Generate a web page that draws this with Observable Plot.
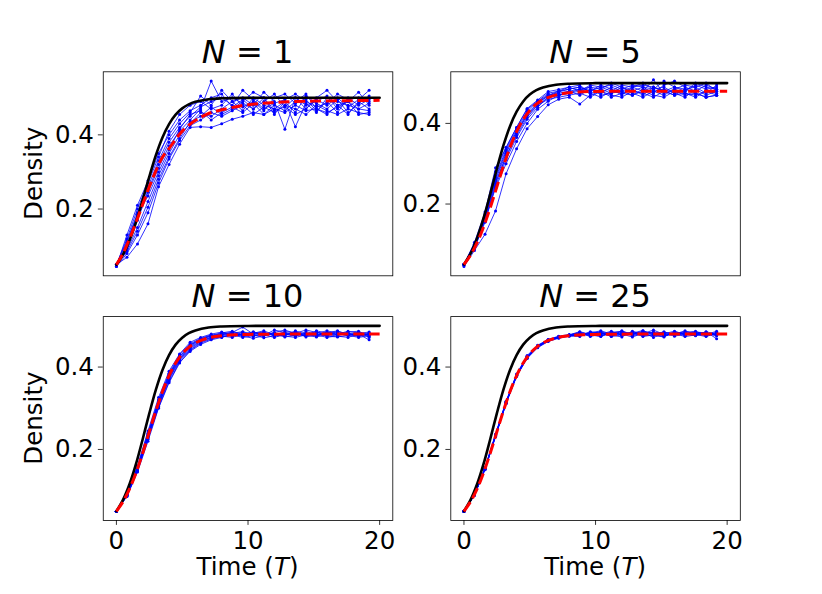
<!DOCTYPE html>
<html>
<head>
<meta charset="utf-8">
<script src="https://cdn.jsdelivr.net/npm/d3@7"></script>
<script src="https://cdn.jsdelivr.net/npm/@observablehq/plot@0.6"></script>
<style>
  body { margin: 0; background: #fff; }
  #chart { position: relative; width: 822px; height: 594px; background: #fff; }
  #chart svg { position: absolute; left: 0; top: 0; }
</style>
</head>
<body>
<div id="chart"></div>
<script>
// ---- data ----
const blueT = [0,0.8,1.6,2.4,3.2,4.0,4.8,5.6,6.4,7.2,8.0,8.8,9.6,10.4,11.2,12.0,12.8,13.6,14.4,15.2,16.0,16.8,17.6,18.4,19.2];

const blueN1 = [
  [0.05,0.095,0.17,0.245,0.31,0.37,0.41,0.44,0.47,0.545,0.49,0.50,0.485,0.47,0.49,0.51,0.475,0.50,0.48,0.49,0.505,0.47,0.49,0.515,0.48],
  [0.045,0.13,0.21,0.276,0.35,0.40,0.44,0.465,0.48,0.50,0.51,0.475,0.495,0.47,0.50,0.455,0.49,0.46,0.505,0.485,0.47,0.495,0.46,0.485,0.505],
  [0.05,0.07,0.106,0.16,0.26,0.32,0.375,0.42,0.422,0.42,0.43,0.442,0.45,0.46,0.455,0.47,0.46,0.48,0.465,0.47,0.455,0.48,0.49,0.47,0.465],
  [0.05,0.11,0.19,0.26,0.33,0.39,0.43,0.46,0.505,0.48,0.52,0.49,0.50,0.48,0.515,0.49,0.415,0.50,0.47,0.495,0.48,0.50,0.475,0.495,0.52],
  [0.05,0.09,0.15,0.22,0.29,0.35,0.40,0.43,0.46,0.45,0.47,0.49,0.465,0.50,0.48,0.47,0.49,0.422,0.485,0.46,0.50,0.48,0.455,0.49,0.47],
  [0.05,0.12,0.20,0.27,0.34,0.41,0.455,0.48,0.49,0.47,0.48,0.51,0.475,0.49,0.465,0.50,0.51,0.485,0.495,0.465,0.49,0.46,0.50,0.48,0.495],
  [0.045,0.08,0.13,0.19,0.27,0.335,0.385,0.425,0.44,0.46,0.45,0.465,0.48,0.455,0.475,0.46,0.48,0.47,0.455,0.48,0.465,0.455,0.47,0.46,0.455],
  [0.05,0.10,0.18,0.25,0.32,0.38,0.42,0.45,0.475,0.49,0.50,0.48,0.52,0.495,0.47,0.485,0.495,0.51,0.49,0.475,0.485,0.51,0.495,0.50,0.49],
  [0.05,0.115,0.185,0.235,0.30,0.36,0.415,0.455,0.465,0.44,0.46,0.475,0.46,0.485,0.455,0.48,0.465,0.49,0.51,0.47,0.46,0.475,0.49,0.455,0.46],
  [0.05,0.085,0.14,0.205,0.28,0.34,0.39,0.435,0.45,0.475,0.455,0.47,0.49,0.515,0.50,0.465,0.475,0.455,0.47,0.50,0.52,0.49,0.48,0.47,0.485]
];

const blueN5 = [
  [0.05,0.10,0.175,0.28,0.34,0.39,0.435,0.455,0.475,0.48,0.485,0.49,0.48,0.495,0.485,0.47,0.49,0.50,0.485,0.49,0.475,0.48,0.495,0.485,0.49],
  [0.05,0.095,0.165,0.26,0.325,0.38,0.42,0.45,0.47,0.475,0.48,0.47,0.485,0.475,0.49,0.48,0.47,0.485,0.48,0.47,0.485,0.475,0.47,0.48,0.475],
  [0.045,0.085,0.125,0.183,0.275,0.337,0.387,0.417,0.446,0.46,0.465,0.448,0.47,0.48,0.465,0.475,0.485,0.47,0.49,0.48,0.47,0.485,0.475,0.465,0.47],
  [0.05,0.10,0.17,0.27,0.335,0.385,0.43,0.455,0.47,0.48,0.49,0.495,0.475,0.485,0.50,0.49,0.48,0.49,0.475,0.495,0.505,0.49,0.48,0.495,0.485],
  [0.05,0.09,0.155,0.245,0.31,0.365,0.41,0.44,0.465,0.47,0.475,0.485,0.49,0.47,0.475,0.49,0.475,0.465,0.48,0.485,0.475,0.465,0.485,0.47,0.48],
  [0.05,0.105,0.18,0.29,0.34,0.39,0.437,0.458,0.479,0.484,0.49,0.48,0.495,0.49,0.48,0.495,0.49,0.48,0.508,0.475,0.485,0.495,0.49,0.475,0.495],
  [0.05,0.09,0.16,0.25,0.32,0.37,0.415,0.445,0.46,0.465,0.47,0.475,0.465,0.48,0.47,0.465,0.48,0.475,0.465,0.48,0.47,0.475,0.465,0.48,0.47],
  [0.05,0.095,0.17,0.265,0.33,0.38,0.425,0.45,0.468,0.478,0.485,0.49,0.48,0.49,0.495,0.485,0.495,0.49,0.485,0.505,0.49,0.48,0.50,0.49,0.485],
  [0.05,0.10,0.165,0.255,0.315,0.375,0.42,0.445,0.465,0.47,0.48,0.485,0.475,0.465,0.48,0.475,0.47,0.48,0.47,0.465,0.48,0.47,0.475,0.465,0.47],
  [0.05,0.095,0.16,0.24,0.30,0.355,0.40,0.435,0.455,0.47,0.475,0.48,0.49,0.485,0.475,0.48,0.49,0.495,0.49,0.48,0.49,0.485,0.49,0.50,0.48]
];

const blueN10 = [
  [0.05,0.09,0.155,0.235,0.315,0.38,0.425,0.452,0.468,0.475,0.482,0.478,0.485,0.475,0.48,0.483,0.476,0.488,0.48,0.475,0.485,0.478,0.482,0.476,0.48],
  [0.05,0.088,0.148,0.228,0.305,0.372,0.418,0.445,0.462,0.472,0.478,0.485,0.476,0.482,0.488,0.478,0.482,0.475,0.486,0.48,0.476,0.484,0.478,0.485,0.472],
  [0.05,0.092,0.16,0.245,0.326,0.39,0.432,0.46,0.472,0.48,0.485,0.48,0.478,0.486,0.477,0.49,0.484,0.479,0.476,0.488,0.482,0.486,0.48,0.478,0.483],
  [0.05,0.086,0.145,0.22,0.30,0.362,0.41,0.44,0.458,0.468,0.475,0.472,0.48,0.478,0.471,0.476,0.48,0.485,0.477,0.473,0.479,0.475,0.472,0.48,0.466],
  [0.05,0.09,0.152,0.232,0.312,0.378,0.422,0.45,0.466,0.476,0.48,0.484,0.497,0.48,0.484,0.475,0.478,0.482,0.49,0.484,0.478,0.48,0.487,0.482,0.485],
  [0.05,0.087,0.15,0.23,0.308,0.37,0.415,0.442,0.46,0.47,0.473,0.478,0.472,0.476,0.482,0.48,0.473,0.477,0.481,0.478,0.472,0.476,0.483,0.475,0.479],
  [0.05,0.091,0.158,0.24,0.32,0.385,0.43,0.456,0.47,0.478,0.476,0.482,0.486,0.479,0.476,0.484,0.49,0.481,0.476,0.482,0.488,0.482,0.476,0.484,0.478],
  [0.05,0.089,0.153,0.234,0.31,0.375,0.42,0.448,0.463,0.473,0.479,0.475,0.481,0.484,0.478,0.472,0.479,0.476,0.482,0.477,0.483,0.488,0.479,0.474,0.482],
  [0.05,0.087,0.147,0.225,0.302,0.365,0.412,0.438,0.455,0.466,0.472,0.479,0.475,0.47,0.476,0.481,0.475,0.472,0.478,0.486,0.475,0.473,0.477,0.472,0.476],
  [0.05,0.09,0.156,0.238,0.318,0.382,0.426,0.454,0.468,0.477,0.483,0.487,0.479,0.482,0.485,0.477,0.486,0.484,0.473,0.479,0.484,0.479,0.485,0.487,0.474]
];

const blueN25 = [
  [0.05,0.09,0.153,0.233,0.313,0.38,0.424,0.45,0.465,0.472,0.476,0.476,0.486,0.482,0.475,0.488,0.479,0.484,0.472,0.481,0.487,0.478,0.483,0.476,0.484],
  [0.05,0.091,0.155,0.236,0.316,0.382,0.426,0.452,0.466,0.473,0.478,0.483,0.474,0.48,0.487,0.477,0.482,0.489,0.478,0.474,0.485,0.48,0.476,0.486,0.479],
  [0.05,0.089,0.151,0.231,0.311,0.377,0.421,0.447,0.462,0.47,0.475,0.479,0.481,0.486,0.478,0.473,0.487,0.48,0.484,0.477,0.48,0.488,0.479,0.474,0.482],
  [0.05,0.09,0.154,0.235,0.315,0.381,0.425,0.451,0.464,0.474,0.477,0.485,0.478,0.474,0.483,0.486,0.476,0.481,0.49,0.479,0.483,0.476,0.485,0.481,0.477],
  [0.05,0.09,0.152,0.232,0.312,0.378,0.422,0.448,0.463,0.471,0.476,0.474,0.483,0.488,0.48,0.479,0.484,0.474,0.478,0.486,0.477,0.483,0.48,0.485,0.469],
  [0.05,0.091,0.156,0.237,0.317,0.383,0.428,0.453,0.467,0.475,0.479,0.481,0.477,0.483,0.476,0.484,0.48,0.487,0.481,0.476,0.48,0.486,0.482,0.478,0.484],
  [0.05,0.089,0.152,0.233,0.313,0.379,0.423,0.449,0.464,0.472,0.477,0.478,0.484,0.477,0.481,0.48,0.473,0.482,0.485,0.482,0.475,0.48,0.485,0.483,0.478],
  [0.05,0.09,0.153,0.234,0.314,0.38,0.424,0.45,0.465,0.473,0.478,0.486,0.479,0.475,0.485,0.482,0.483,0.476,0.479,0.484,0.481,0.474,0.478,0.482,0.476],
  [0.05,0.09,0.154,0.235,0.314,0.379,0.422,0.449,0.466,0.474,0.476,0.477,0.482,0.485,0.474,0.478,0.486,0.479,0.477,0.473,0.486,0.481,0.477,0.479,0.487],
  [0.05,0.09,0.153,0.233,0.313,0.38,0.425,0.451,0.465,0.472,0.477,0.482,0.476,0.479,0.484,0.487,0.478,0.485,0.482,0.48,0.479,0.484,0.487,0.477,0.48]
];

// black (true) curve
const blackT = [0,0.5,1,1.5,2,2.5,3,3.5,4,4.5,5,5.5,6,7,8,10,12,14,16,18,20];
const blackV = [0.05,0.0774,0.116,0.166,0.2254,0.2875,0.3453,0.393,0.429,0.4545,0.4714,0.4823,0.489,0.496,0.4985,0.4998,0.5,0.5,0.5,0.5,0.5];

// red dashed (fitted) curves
const redN1T = [0,0.5,1,1.5,2,2.5,3,3.5,4,4.5,5,5.6,6.3,6.9,7.5,8.2,9.4,10.5,11.5,13,15,17.5,20];
const redN1V = [0.05,0.08,0.12,0.165,0.213,0.26,0.303,0.34,0.363,0.388,0.41,0.429,0.445,0.456,0.463,0.469,0.478,0.483,0.486,0.489,0.491,0.492,0.493];
const redFitT = [0,0.5,1,1.5,2,2.5,3,3.5,4,4.5,5,5.5,6,7,8,9,10,12,14,20];
const redFitV = [0.05,0.0731,0.1043,0.1441,0.1913,0.2428,0.2941,0.3406,0.3794,0.4097,0.432,0.4478,0.4587,0.4708,0.4761,0.4784,0.4793,0.4799,0.48,0.48];

const panelLabels = ["1", "5", "10", "25"];
const xTicks = [0, 10, 20];
const yTicks = [0.2, 0.4];

// ---- layout ----
const W = 822, H = 594;
const panels = [
  {label: panelLabels[0], blue: blueN1,  redT: redN1T,  redV: redN1V,  y: [0.02, 0.57],     l: 102.75, r: 392.3, t: 71.3,  b: 275.3, showX: false, ylab: true},
  {label: panelLabels[1], blue: blueN5,  redT: redFitT, redV: redFitV, y: [0.022, 0.528],   l: 450.3,  r: 739.8, t: 71.3,  b: 275.3, showX: false, ylab: false},
  {label: panelLabels[2], blue: blueN10, redT: redFitT, redV: redFitV, y: [0.0275, 0.5225], l: 102.75, r: 392.3, t: 316.1, b: 520,   showX: true,  ylab: true},
  {label: panelLabels[3], blue: blueN25, redT: redFitT, redV: redFitV, y: [0.0275, 0.5225], l: 450.3,  r: 739.8, t: 316.1, b: 520,   showX: true,  ylab: false}
];

const blackRows = blackT.map((t, i) => ({t, v: blackV[i]}));
const container = document.getElementById("chart");
const FONT = "'DejaVu Sans', sans-serif";
const TICK_FS = 24.5, TITLE_FS = 32;

for (const p of panels) {
  const blueRows = [];
  p.blue.forEach((line, k) => line.forEach((v, j) => blueRows.push({t: blueT[j], v, run: k})));
  const redRows = p.redT.map((t, i) => ({t, v: p.redV[i]}));

  const svg = Plot.plot({
    width: W, height: H,
    marginLeft: p.l, marginRight: W - p.r, marginTop: p.t, marginBottom: H - p.b,
    x: {domain: [-1, 21], axis: null},
    y: {domain: p.y, axis: null},
    style: {background: "transparent", fontFamily: FONT, fontSize: TICK_FS + "px", color: "black", overflow: "visible"},
    marks: [
      Plot.line(blueRows, {x: "t", y: "v", z: "run", stroke: "#0000ff", strokeWidth: 0.8}),
      Plot.dot(blueRows, {x: "t", y: "v", r: 1.5, fill: "#0000ff", stroke: null}),
      Plot.line(blackRows, {x: "t", y: "v", stroke: "black", strokeWidth: 2.6, curve: "catmull-rom"}),
      Plot.line(redRows, {x: "t", y: "v", stroke: "red", strokeWidth: 3, strokeDasharray: "11,4.8", strokeLinecap: "butt", curve: "catmull-rom"}),
      Plot.frame({stroke: "black", strokeWidth: 0.8}),
      Plot.axisY({ticks: yTicks, tickFormat: d => d.toFixed(1), tickSize: 4.9, tickPadding: 4.5, strokeWidth: 0.8, label: null, fontSize: TICK_FS}),
      p.showX ? Plot.axisX({ticks: xTicks, tickFormat: d => String(d), tickSize: 4.9, tickPadding: 6, strokeWidth: 0.8, label: null, fontSize: TICK_FS}) : null
    ]
  });
  container.appendChild(svg);

  const s = d3.select(svg);
  const cx = (p.l + p.r) / 2;
  // title
  const title = s.append("text")
    .attr("x", cx).attr("y", p.t - 8.8)
    .attr("text-anchor", "middle")
    .style("font-family", FONT).style("font-size", TITLE_FS + "px").attr("fill", "black");
  title.append("tspan").style("font-style", "italic").text("N");
  title.append("tspan").text(" = " + p.label);

  if (p.ylab) {
    const cy = (p.t + p.b) / 2;
    s.append("text")
      .attr("transform", `translate(42,${cy}) rotate(-90)`)
      .attr("text-anchor", "middle")
      .style("font-family", FONT).style("font-size", TICK_FS + "px").attr("fill", "black")
      .text("Density");
  }
  if (p.showX) {
    const xl = s.append("text")
      .attr("x", cx).attr("y", 575)
      .attr("text-anchor", "middle")
      .style("font-family", FONT).style("font-size", TICK_FS + "px").attr("fill", "black");
    xl.append("tspan").text("Time (");
    xl.append("tspan").style("font-style", "italic").text("T");
    xl.append("tspan").text(")");
  }
}
</script>
</body>
</html>
